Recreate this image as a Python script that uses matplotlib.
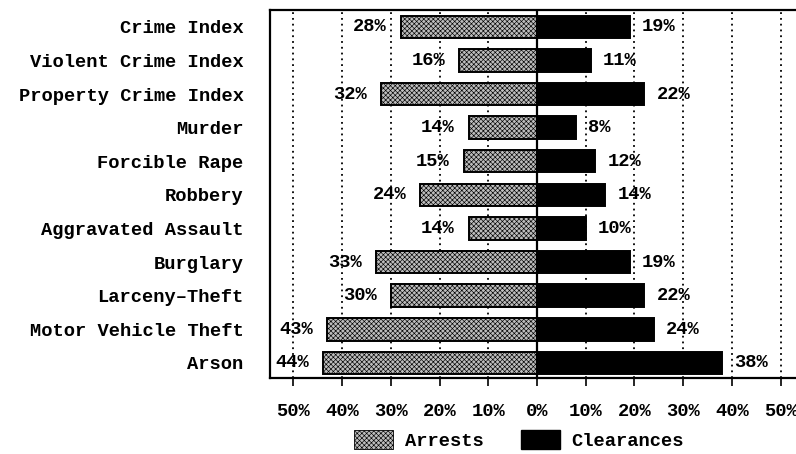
import matplotlib
matplotlib.use("Agg")
import matplotlib.pyplot as plt
import matplotlib.patches as mpatches

categories = ["Crime Index", "Violent Crime Index", "Property Crime Index", "Murder",
              "Forcible Rape", "Robbery", "Aggravated Assault", "Burglary",
              "Larceny\u2013Theft", "Motor Vehicle Theft", "Arson"]
arrests = [28, 16, 32, 14, 15, 24, 14, 33, 30, 43, 44]
clearances = [19, 11, 22, 8, 12, 14, 10, 19, 22, 24, 38]
tick_values = [-50, -40, -30, -20, -10, 0, 10, 20, 30, 40, 50]
tick_labels = ["50%", "40%", "30%", "20%", "10%", "0%", "10%", "20%", "30%", "40%", "50%"]

plt.rcParams['font.family'] = ['Liberation Mono', 'DejaVu Sans Mono']
plt.rcParams['hatch.linewidth'] = 0.45
plt.rcParams['hatch.color'] = '#303030'
FS = 13.5
GRAY = '#bdbdbd'
HATCH = 'xxxxxxx'

fig = plt.figure(figsize=(7.96, 4.54), dpi=100)
ax = fig.add_axes([270/796, 1 - 378/454, (800 - 270)/796, (378 - 10)/454])

y = list(range(len(categories)))
neg = [-a for a in arrests]
ax.barh(y, neg, height=0.67, facecolor=GRAY, edgecolor='black', hatch=HATCH,
        linewidth=1.4, zorder=3)
ax.barh(y, clearances, height=0.67, facecolor='black', edgecolor='black',
        linewidth=1.4, zorder=3)

for yi, a in zip(y, arrests):
    ax.annotate(f"{a}%", (-a, yi), xytext=(-10, 0), textcoords='offset points',
                ha='right', va='center', fontsize=FS, fontweight='bold', zorder=5)
for yi, c in zip(y, clearances):
    ax.annotate(f"{c}%", (c, yi), xytext=(9, 0), textcoords='offset points',
                ha='left', va='center', fontsize=FS, fontweight='bold', zorder=5)

for t in tick_values:
    if t != 0:
        ax.axvline(t, color='black', linestyle=(0, (1, 2.2)), linewidth=1.3, zorder=1)
ax.axvline(0, color='black', linewidth=1.6, zorder=4)

ax.set_xlim(-54.8, 54.0)
ax.set_ylim(10.45, -0.5)
ax.set_xticks(tick_values)
ax.set_xticklabels(tick_labels, fontsize=FS, fontweight='bold')
ax.set_yticks(y)
ax.set_yticklabels(categories, fontsize=FS, fontweight='bold')
ax.tick_params(axis='y', length=0, pad=19)
ax.tick_params(axis='x', direction='out', length=6, width=1.2, pad=12)
for s in ['left', 'top', 'bottom']:
    ax.spines[s].set_linewidth(1.6)
ax.spines['right'].set_visible(False)

handles = [mpatches.Patch(facecolor=GRAY, edgecolor='black', hatch=HATCH, linewidth=0.6),
           mpatches.Patch(facecolor='black', edgecolor='black')]
fig.legend(handles, ['Arrests', 'Clearances'], loc='lower center', bbox_to_anchor=(0.652, -0.028),
           ncol=2, frameon=False, handlelength=2.1, handleheight=1.2,
           columnspacing=2.0, handletextpad=0.6, prop={'weight': 'bold', 'size': FS})

fig.savefig("out.png", dpi=100)
